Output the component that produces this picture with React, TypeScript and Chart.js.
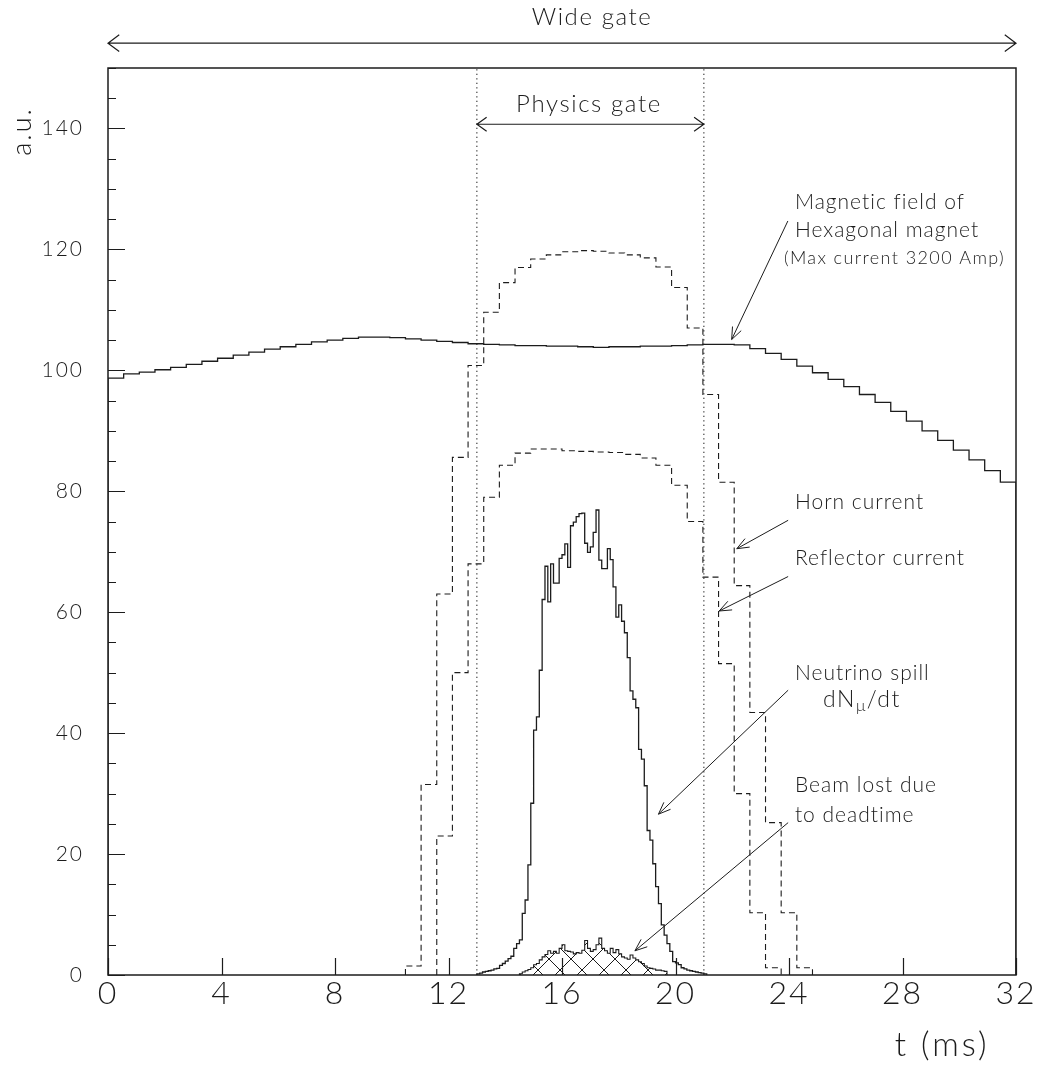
import { useEffect, useRef } from 'react';
import { Chart, registerables } from 'chart.js';

Chart.register(...registerables);

const WIDTH = 1049;
const HEIGHT = 1069;
const INK = '#1c1c1c';
const FONT = 'Lato, "DejaVu Sans", sans-serif';

// ---- axes ----
const xMin = 0;
const xMax = 32;
const xStep = 4;
const yMin = 0;
const yMax = 150;
const yMinorStep = 5;
const yMajorStep = 20;

// ---- coarse histograms: 58 bins spanning 0..32 ms ----
const coarseBinCount = 58;
const magnetField = [
  98.7, 99.4, 99.7, 100.1, 100.5, 101.0, 101.5, 102.0, 102.5, 103.0,
  103.5, 103.9, 104.3, 104.7, 105.0, 105.3, 105.5, 105.5, 105.4, 105.2,
  105.0, 104.8, 104.6, 104.4, 104.3, 104.2, 104.1, 104.1, 104.0, 104.0,
  103.9, 103.8, 103.9, 103.9, 104.0, 104.0, 104.1, 104.2, 104.3, 104.3,
  104.2, 103.6, 102.8, 101.8, 100.7, 99.6, 98.5, 97.3, 96.0, 94.7,
  93.2, 91.6, 90.0, 88.4, 86.8, 85.2, 83.4, 81.5,
];
const hornFirstBin = 19;
const hornCurrent = [
  1.5, 31.5, 63, 85.6, 100.8, 109.6, 114.5, 117.0, 118.4, 119.1,
  119.6, 119.8, 119.7, 119.4, 119.1, 118.6, 117.1, 113.7, 107.0, 96.0,
  81.5, 64.4, 43.4, 25.2, 10.3, 1.2,
];
const reflectorFirstBin = 21;
const reflectorCurrent = [
  23, 50, 68, 79, 84.3, 86.3, 87.0, 87.0, 86.7, 86.6,
  86.5, 86.4, 86.1, 85.5, 84.3, 81.0, 75.0, 65.8, 51.5, 30.0,
  10.3, 1.2,
];

// ---- fine histograms: 0.1 ms bins ----
const spillStart = 13.0;
const spillBinWidth = 0.1;
const neutrinoSpill = [
  0.2, 0.3, 0.5, 0.6, 0.7, 0.8, 1.0, 1.1, 1.6, 1.9,
  2.3, 2.7, 3.1, 4.4, 5.2, 5.8, 10.2, 12.4, 18.2, 28.4,
  40.5, 42.7, 50.4, 62.1, 67.6, 61.7, 68.0, 64.8, 64.8, 68.9,
  69.5, 71.3, 67.4, 74.3, 74.9, 75.8, 76.3, 76.4, 71.4, 69.9,
  70.8, 73.2, 76.9, 68.6, 67.2, 67.2, 70.5, 68.7, 64.2, 59.2,
  61.2, 58.5, 56.6, 52.5, 47.0, 45.6, 44.2, 37.3, 35.7, 31.3,
  23.9, 22.3, 18.4, 14.6, 11.8, 8.3, 6.6, 5.2, 3.9, 2.2,
  2.0, 1.7, 1.2, 1.0, 0.8, 0.7, 0.6, 0.5, 0.4, 0.3,
  0.2,
];
const lostStart = 14.5;
const lostBinWidth = 0.1;
const beamLost = [
  0.2, 0.5, 0.7, 0.9, 1.2, 1.7, 1.9, 2.5, 3.0, 3.4,
  4.0, 3.6, 3.9, 3.6, 4.4, 5.0, 4.0, 3.9, 3.8, 3.5,
  3.7, 3.6, 4.1, 5.7, 4.4, 3.9, 4.2, 5.0, 6.1, 4.4,
  4.0, 3.6, 4.4, 3.7, 4.2, 3.5, 3.0, 2.8, 2.6, 3.3,
  2.8, 2.5, 2.2, 1.9, 1.5, 1.2, 1.1, 1.0, 0.8, 0.8,
  0.7, 0.6,
];

// ---- gates ----
const physicsGate = [13, 21];
const wideGate = [0, 32];

type Pt = { x: number; y: number };

function histPoints(start: number, width: number, firstBin: number, values: number[]): Pt[] {
  const pts: Pt[] = [];
  const x0 = start + firstBin * width;
  pts.push({ x: x0, y: 0 });
  values.forEach((v, i) => pts.push({ x: start + (firstBin + i) * width, y: v }));
  const xe = start + (firstBin + values.length) * width;
  pts.push({ x: xe, y: values[values.length - 1] });
  pts.push({ x: xe, y: 0 });
  return pts;
}

function arrowHead(ctx: CanvasRenderingContext2D, tx: number, ty: number, fx: number, fy: number, len: number, ang: number) {
  const a = Math.atan2(fy - ty, fx - tx);
  ctx.moveTo(tx + len * Math.cos(a + ang), ty + len * Math.sin(a + ang));
  ctx.lineTo(tx, ty);
  ctx.lineTo(tx + len * Math.cos(a - ang), ty + len * Math.sin(a - ang));
}

const spacingPlugin = {
  id: 'tickSpacing',
  beforeDraw(chart: any) {
    (chart.ctx as any).letterSpacing = '2px';
  },
};

const annotationPlugin = {
  id: 'annotations',
  afterDatasetsDraw(chart: any) {
    const { ctx, chartArea: a, scales } = chart;
    const xs = scales.x;
    const ys = scales.y;
    const X = (t: number) => xs.getPixelForValue(t);
    const Y = (v: number) => ys.getPixelForValue(v);
    ctx.save();
    ctx.strokeStyle = INK;
    ctx.fillStyle = INK;

    // frame
    ctx.lineWidth = 1.5;
    ctx.strokeRect(a.left, a.top, a.right - a.left, a.bottom - a.top);

    // inward ticks
    ctx.lineWidth = 1.2;
    ctx.beginPath();
    ys.ticks.forEach((t: any) => {
      const py = Math.round(Y(t.value)) + 0.5;
      const major = t.value % yMajorStep === 0;
      ctx.moveTo(a.left, py);
      ctx.lineTo(a.left + (major ? 17 : 8), py);
    });
    xs.ticks.forEach((t: any) => {
      const px = Math.round(X(t.value)) + 0.5;
      ctx.moveTo(px, a.bottom);
      ctx.lineTo(px, a.bottom - 17);
    });
    ctx.stroke();

    // gate arrows
    ctx.lineWidth = 1.2;
    ctx.beginPath();
    const wy = Y(154.1);
    ctx.moveTo(X(wideGate[0]), wy);
    ctx.lineTo(X(wideGate[1]), wy);
    arrowHead(ctx, X(wideGate[0]), wy, X(wideGate[1]), wy, 14, 0.64);
    arrowHead(ctx, X(wideGate[1]), wy, X(wideGate[0]), wy, 14, 0.64);
    const py = Y(140.7);
    ctx.moveTo(X(physicsGate[0]), py);
    ctx.lineTo(X(physicsGate[1]), py);
    arrowHead(ctx, X(physicsGate[0]), py, X(physicsGate[1]), py, 12, 0.62);
    arrowHead(ctx, X(physicsGate[1]), py, X(physicsGate[0]), py, 12, 0.62);
    ctx.stroke();

    // annotation arrows
    const arrows = [
      [23.96, 124.7, 21.98, 105.1],
      [23.97, 75.2, 22.16, 70.5],
      [23.97, 65.9, 21.54, 60.2],
      [23.97, 47.1, 19.4, 26.6],
      [23.97, 25.2, 18.57, 4.0],
    ];
    ctx.lineWidth = 1;
    ctx.beginPath();
    arrows.forEach(([t0, v0, t1, v1]) => {
      ctx.moveTo(X(t0), Y(v0));
      ctx.lineTo(X(t1), Y(v1));
      arrowHead(ctx, X(t1), Y(v1), X(t0), Y(v0), 13, 0.38);
    });
    ctx.stroke();

    // texts
    const text = (s: string, px: number, pyy: number, size: number, ls: number, align: CanvasTextAlign = 'left') => {
      ctx.font = `300 ${size}px ${FONT}`;
      (ctx as any).letterSpacing = `${ls}px`;
      ctx.textAlign = align;
      ctx.textBaseline = 'middle';
      ctx.fillText(s, px, pyy);
    };
    text('Wide gate', X(17.06), Y(158.4), 24, 1.6, 'center');
    text('Physics gate', X(16.95), Y(144.0), 24, 1.6, 'center');
    text('Magnetic field of', X(24.21), Y(127.8), 21, 1.0);
    text('Hexagonal magnet', X(24.21), Y(123.2), 21, 1.0);
    text('(Max current 3200 Amp)', X(23.82), Y(118.6), 18, 1.4);
    text('Horn current', X(24.21), Y(78.2), 21, 1.0);
    text('Reflector current', X(24.21), Y(69.0), 21, 1.0);
    text('Neutrino spill', X(24.21), Y(49.9), 21, 1.0);
    // dN_mu/dt
    (ctx as any).letterSpacing = '1.5px';
    ctx.font = `300 23px ${FONT}`;
    ctx.textAlign = 'left';
    ctx.textBaseline = 'middle';
    let cx = X(25.2);
    const cy = Y(45.5);
    ctx.fillText('dN', cx, cy);
    cx += ctx.measureText('dN').width;
    ctx.font = `300 16px ${FONT}`;
    ctx.fillText('\u03bc', cx, cy + 6);
    cx += ctx.measureText('\u03bc').width;
    ctx.font = `300 23px ${FONT}`;
    ctx.fillText('/dt', cx, cy);
    text('Beam lost due', X(24.21), Y(31.4), 21, 1.0);
    text('to deadtime', X(24.21), Y(26.5), 21, 1.0);

    // axis titles
    text('t (ms)', X(29.4), a.bottom + 70, 33, 3, 'center');
    ctx.save();
    ctx.translate(22, Y(139.5));
    ctx.rotate(-Math.PI / 2);
    ctx.font = `300 27px ${FONT}`;
    (ctx as any).letterSpacing = '2px';
    ctx.textAlign = 'center';
    ctx.textBaseline = 'middle';
    ctx.fillText('a.u.', 0, 0);
    ctx.restore();

    ctx.restore();
  },
};

export default function App() {
  const ref = useRef<HTMLCanvasElement | null>(null);
  useEffect(() => {
    const canvas = ref.current;
    if (!canvas) return;
    const ctx = canvas.getContext('2d')!;

    const tile = document.createElement('canvas');
    tile.width = 22;
    tile.height = 22;
    const tc = tile.getContext('2d')!;
    tc.strokeStyle = INK;
    tc.lineWidth = 1;
    tc.beginPath();
    tc.moveTo(-2, -2);
    tc.lineTo(24, 24);
    tc.moveTo(24, -2);
    tc.lineTo(-2, 24);
    tc.stroke();
    const pattern = ctx.createPattern(tile, 'repeat')!;
    pattern.setTransform(new DOMMatrix([1, 0, 0, 1, 10, 2]));

    const coarseWidth = (xMax - xMin) / coarseBinCount;
    const base = { pointRadius: 0, borderColor: INK, stepped: true as const, fill: false, tension: 0 };

    const chart = new Chart(ctx, {
      type: 'line',
      data: {
        datasets: [
          { ...base, label: 'Magnetic field', data: histPoints(xMin, coarseWidth, 0, magnetField), borderWidth: 1.3 },
          { ...base, label: 'Horn current', data: histPoints(xMin, coarseWidth, hornFirstBin, hornCurrent), borderWidth: 1.1, borderDash: [6, 4] },
          { ...base, label: 'Reflector current', data: histPoints(xMin, coarseWidth, reflectorFirstBin, reflectorCurrent), borderWidth: 1.1, borderDash: [6, 4] },
          { ...base, label: 'Neutrino spill', data: histPoints(spillStart, spillBinWidth, 0, neutrinoSpill), borderWidth: 1.3 },
          { ...base, label: 'Beam lost', data: histPoints(lostStart, lostBinWidth, 0, beamLost), borderWidth: 1.1, fill: 'origin', backgroundColor: pattern },
          { ...base, stepped: false, label: 'gate start', data: [{ x: physicsGate[0], y: yMin }, { x: physicsGate[0], y: yMax }], borderWidth: 1, borderDash: [1.3, 3.2] },
          { ...base, stepped: false, label: 'gate end', data: [{ x: physicsGate[1], y: yMin }, { x: physicsGate[1], y: yMax }], borderWidth: 1, borderDash: [1.3, 3.2] },
        ],
      },
      options: {
        animation: false,
        responsive: false,
        devicePixelRatio: 1,
        layout: { padding: { left: 0, right: 33, top: 68, bottom: 0 } },
        plugins: { legend: { display: false }, tooltip: { enabled: false } },
        scales: {
          x: {
            type: 'linear',
            min: xMin,
            max: xMax,
            ticks: { stepSize: xStep, autoSkip: false, color: INK, padding: -1, font: { family: FONT, size: 32, weight: '300' } },
            grid: { display: false, drawTicks: false },
            border: { display: false },
            afterFit: (s: any) => { s.height = 94; },
          },
          y: {
            type: 'linear',
            min: yMin,
            max: yMax,
            ticks: {
              stepSize: yMinorStep,
              autoSkip: false,
              color: INK,
              padding: 24,
              font: { family: FONT, size: 21, weight: '300' },
              callback: (v: any) => (Number(v) % yMajorStep === 0 ? String(v) : ''),
            },
            grid: { display: false, drawTicks: false },
            border: { display: false },
            afterFit: (s: any) => { s.width = 108; },
          },
        },
      } as any,
      plugins: [spacingPlugin, annotationPlugin],
    });
    return () => chart.destroy();
  }, []);

  return (
    <div style={{ position: 'absolute', left: 0, top: 0, width: WIDTH, height: HEIGHT, background: '#fff' }}>
      <canvas ref={ref} width={WIDTH} height={HEIGHT} style={{ display: 'block', width: WIDTH, height: HEIGHT }} />
    </div>
  );
}
